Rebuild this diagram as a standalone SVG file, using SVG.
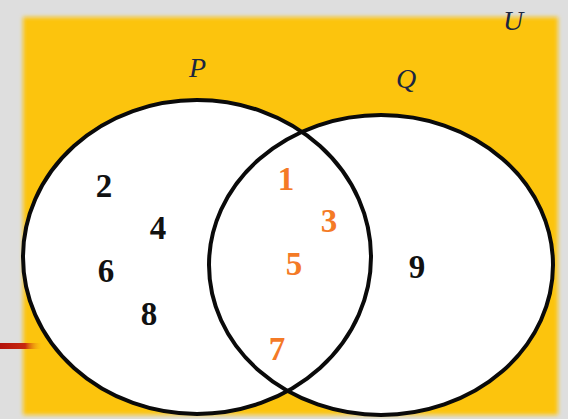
<svg xmlns="http://www.w3.org/2000/svg" width="568" height="419" viewBox="0 0 568 419">
  <defs>
    <filter id="soft" x="-5%" y="-5%" width="110%" height="110%">
      <feGaussianBlur stdDeviation="2"/>
    </filter>
    <linearGradient id="redline" x1="0" y1="0" x2="1" y2="0">
      <stop offset="0" stop-color="#b3120c"/>
      <stop offset="0.6" stop-color="#c8280e"/>
      <stop offset="1" stop-color="#f5b40f" stop-opacity="0"/>
    </linearGradient>
  </defs>
  <style>
    .set { fill: #ffffff; stroke: none; }
    .outline { fill: none; stroke: #0a0a0a; stroke-width: 4; }
    .lbl { font-family: "Liberation Serif", "Times New Roman", serif; font-style: italic; font-size: 28px; fill: #1b2640; }
    .num { font-family: "Liberation Serif", "Times New Roman", serif; font-weight: bold; font-size: 33px; text-anchor: middle; }
    .blk { fill: #111111; }
    .org { fill: #f47a26; }
  </style>
  <rect x="0" y="0" width="568" height="419" fill="#dedede"/>
  <rect x="23" y="17" width="535" height="398" fill="#fcc40e" filter="url(#soft)"/>
  <rect x="0" y="343" width="42" height="6" fill="url(#redline)"/>

  <g id="set-P-fill"><ellipse class="set" cx="197" cy="257" rx="174" ry="157"/></g>
  <g id="set-Q-fill"><ellipse class="set" cx="381" cy="265" rx="172" ry="150"/></g>
  <g id="set-P"><ellipse class="outline" cx="197" cy="257" rx="174" ry="157"/></g>
  <g id="set-Q"><ellipse class="outline" cx="381" cy="265" rx="172" ry="150"/></g>

  <g id="labels">
    <text class="lbl" x="189" y="77">P</text>
    <text class="lbl" x="396" y="88">Q</text>
    <text class="lbl" x="503" y="30">U</text>
  </g>

  <g id="only-P">
    <text class="num blk" x="104" y="197">2</text>
    <text class="num blk" x="158" y="239">4</text>
    <text class="num blk" x="106" y="282">6</text>
    <text class="num blk" x="149" y="325">8</text>
  </g>
  <g id="intersection">
    <text class="num org" x="286" y="190">1</text>
    <text class="num org" x="329" y="232">3</text>
    <text class="num org" x="294" y="275">5</text>
    <text class="num org" x="277" y="360">7</text>
  </g>
  <g id="only-Q">
    <text class="num blk" x="417" y="278">9</text>
  </g>
</svg>
